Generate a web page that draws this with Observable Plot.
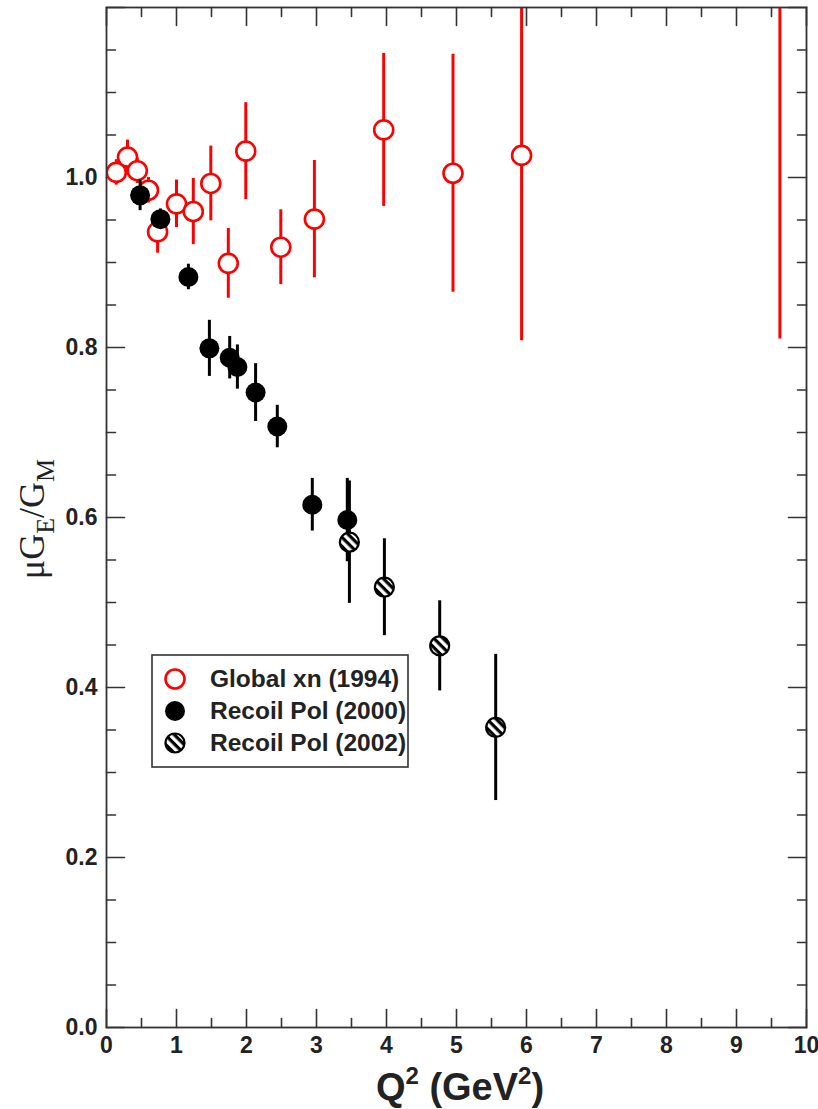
<!DOCTYPE html>
<html>
<head>
<meta charset="utf-8">
<script src="https://cdn.jsdelivr.net/npm/d3@7"></script>
<script src="https://cdn.jsdelivr.net/npm/@observablehq/plot@0.6"></script>
<style>
  body { margin: 0; background: #fff; }
  #chart { position: relative; width: 818px; height: 1109px; }
</style>
</head>
<body>
<div id="chart"></div>
<script>
// Proton form factor ratio mu*GE/GM versus Q^2 (GeV^2)

// Global cross-section (Rosenbluth) analysis, 1994
const xnQ2    = [0.14, 0.30, 0.44, 0.60, 0.73, 1.00, 1.24, 1.49, 1.74, 1.99, 2.49, 2.97, 3.96, 4.95, 5.93, 9.62];
const xnRatio = [1.006, 1.024, 1.008, 0.985, 0.936, 0.969, 0.960, 0.993, 0.899, 1.031, 0.918, 0.951, 1.056, 1.005, 1.026, 1.330];
const xnErr   = [0.015, 0.020, 0.015, 0.015, 0.025, 0.028, 0.039, 0.044, 0.041, 0.057, 0.044, 0.069, 0.090, 0.140, 0.218, 0.520];

// Recoil polarization, 2000
const rp00Q2    = [0.48, 0.77, 1.17, 1.47, 1.76, 1.87, 2.13, 2.44, 2.94, 3.44];
const rp00Ratio = [0.979, 0.951, 0.883, 0.799, 0.788, 0.777, 0.747, 0.707, 0.615, 0.597];
const rp00Err   = [0.018, 0.012, 0.015, 0.033, 0.025, 0.026, 0.034, 0.025, 0.031, 0.049];

// Recoil polarization, 2002
const rp02Q2    = [3.47, 3.97, 4.76, 5.56];
const rp02Ratio = [0.571, 0.518, 0.449, 0.353];
const rp02Err   = [0.072, 0.057, 0.053, 0.086];

const legendLabels = ["Global xn (1994)", "Recoil Pol (2000)", "Recoil Pol (2002)"];

// Axis ticks
const xMajor = d3.range(0, 11, 1);
const xMinor = d3.range(0.5, 10, 1);
const yMajor = [0, 0.2, 0.4, 0.6, 0.8, 1.0, 1.2];
const yLabeled = [0, 0.2, 0.4, 0.6, 0.8, 1.0];
const yMinor = d3.range(0.05, 1.2, 0.05).filter(v => Math.abs(v * 5 - Math.round(v * 5)) > 1e-6);

const RED = "#ff0000";
const INK = "#000";
const AXIS = "#333";
const LABEL = "#222";
const SANS = "'Liberation Sans', Arial, sans-serif";

const rows = (q, r, e) => q.map((x, i) => ({ q: x, r: r[i], e: e[i] }));
const xn = rows(xnQ2, xnRatio, xnErr);
const rp00 = rows(rp00Q2, rp00Ratio, rp00Err);
const rp02 = rows(rp02Q2, rp02Ratio, rp02Err);

// inward tick line drawn by a vector mark
const tickLine = { draw(ctx, l) { ctx.moveTo(0, 0); ctx.lineTo(0, -l); } };
const ticks = (vals, opts, len) =>
  Plot.vector(vals, { ...opts, length: len, anchor: "start", shape: tickLine, stroke: AXIS, strokeWidth: 1.6 });

const chart = Plot.plot({
  width: 818,
  height: 1109,
  marginLeft: 106,
  marginRight: 12,
  marginTop: 7,
  marginBottom: 82,
  x: { domain: [0, 10], axis: null },
  y: { domain: [0, 1.2], axis: null },
  style: { fontFamily: SANS, fontWeight: "bold", background: "#fff" },
  marks: [
    // tick marks on all four sides, pointing inward
    ticks(xMajor, { x: d => d, y: 0, rotate: 0 }, 18),
    ticks(xMinor, { x: d => d, y: 0, rotate: 0 }, 9),
    ticks(xMajor, { x: d => d, y: 1.2, rotate: 180 }, 18),
    ticks(xMinor, { x: d => d, y: 1.2, rotate: 180 }, 9),
    ticks(yMajor, { y: d => d, x: 0, rotate: 90 }, 18),
    ticks(yMinor, { y: d => d, x: 0, rotate: 90 }, 9),
    ticks(yMajor, { y: d => d, x: 10, rotate: -90 }, 18),
    ticks(yMinor, { y: d => d, x: 10, rotate: -90 }, 9),

    // tick labels
    Plot.text(xMajor, { x: d => d, y: 0, text: d => String(d), lineAnchor: "top", dy: 9,
      fontSize: 23, fontWeight: "bold", fontFamily: SANS, fill: LABEL }),
    Plot.text(yLabeled, { x: 0, y: d => d, text: d3.format(".1f"), textAnchor: "end", dx: -9,
      fontSize: 23, fontWeight: "bold", fontFamily: SANS, fill: LABEL }),

    // Global xn (1994)
    Plot.ruleX(xn, { x: "q", y1: d => d.r - d.e, y2: d => d.r + d.e, stroke: RED, strokeWidth: 3, clip: true }),
    Plot.dot(xn, { x: "q", y: "r", r: 9.5, stroke: RED, strokeWidth: 2.6, fill: "#fff", clip: true }),

    // Recoil Pol (2000)
    Plot.ruleX(rp00, { x: "q", y1: d => d.r - d.e, y2: d => d.r + d.e, stroke: INK, strokeWidth: 3 }),
    Plot.dot(rp00, { x: "q", y: "r", r: 10, fill: INK, stroke: "none" }),

    // Recoil Pol (2002)
    Plot.ruleX(rp02, { x: "q", y1: d => d.r - d.e, y2: d => d.r + d.e, stroke: INK, strokeWidth: 3 }),
    Plot.dot(rp02, { x: "q", y: "r", r: 9.5, fill: "url(#hatch)", stroke: INK, strokeWidth: 2.2 }),

    Plot.frame({ stroke: AXIS, strokeWidth: 1.8 })
  ]
});

const svg = d3.select(chart);

// diagonal hatch for the 2002 markers
const defs = svg.insert("defs", ":first-child");
const pat = defs.append("pattern")
  .attr("id", "hatch")
  .attr("patternUnits", "userSpaceOnUse")
  .attr("width", 6.5).attr("height", 6.5)
  .attr("patternTransform", "rotate(45)");
pat.append("rect").attr("width", 6.5).attr("height", 6.5).attr("fill", "#fff");
pat.append("rect").attr("width", 6.5).attr("height", 3.2).attr("fill", INK);

// axis titles
const xTitle = svg.append("text")
  .attr("x", 460).attr("y", 1100)
  .attr("text-anchor", "middle")
  .attr("font-family", SANS)
  .attr("font-weight", "bold")
  .attr("font-size", 38)
  .attr("fill", LABEL);
xTitle.append("tspan").text("Q");
xTitle.append("tspan").attr("font-size", 24).attr("dy", -16).text("2");
xTitle.append("tspan").attr("dy", 16).text(" (GeV");
xTitle.append("tspan").attr("font-size", 24).attr("dy", -16).text("2");
xTitle.append("tspan").attr("dy", 16).text(")");

const yTitle = svg.append("text")
  .attr("transform", "translate(44,519) rotate(-90)")
  .attr("text-anchor", "middle")
  .attr("font-family", "'Liberation Serif', 'Times New Roman', serif")
  .attr("font-weight", "normal")
  .attr("font-size", 36)
  .attr("fill", LABEL);
yTitle.append("tspan").text("\u03BCG");
yTitle.append("tspan").attr("font-size", 26).attr("dy", 10).text("E");
yTitle.append("tspan").attr("dy", -10).text("/G");
yTitle.append("tspan").attr("font-size", 26).attr("dy", 10).text("M");

// legend
const lg = svg.append("g").attr("transform", "translate(152,655)");
lg.append("rect").attr("width", 256).attr("height", 112)
  .attr("fill", "#fff").attr("stroke", AXIS).attr("stroke-width", 1.6);
const markerStyles = [
  { fill: "#fff", stroke: RED, sw: 2.6, r: 9.5 },
  { fill: INK, stroke: "none", sw: 0, r: 10 },
  { fill: "url(#hatch)", stroke: INK, sw: 2.2, r: 9.5 }
];
legendLabels.forEach((label, i) => {
  const y = 24 + i * 32;
  const m = markerStyles[i];
  lg.append("circle").attr("cx", 23).attr("cy", y).attr("r", m.r)
    .attr("fill", m.fill).attr("stroke", m.stroke).attr("stroke-width", m.sw);
  lg.append("text").attr("x", 58).attr("y", y + 8)
    .attr("text-anchor", "start")
    .attr("font-family", SANS)
    .attr("font-weight", "bold").attr("font-size", 24.5).attr("fill", LABEL)
    .text(label);
});

document.getElementById("chart").appendChild(chart);
</script>
</body>
</html>
